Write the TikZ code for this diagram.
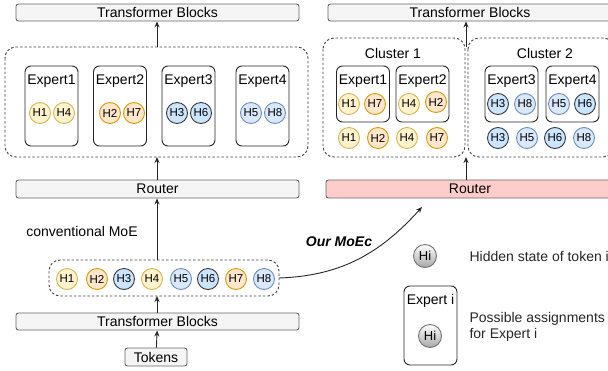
\documentclass[tikz,border=0pt]{standalone}
\usepackage{fontspec}
\setmainfont{Liberation Sans}
\usetikzlibrary{arrows.meta}

\definecolor{blkfill}{HTML}{F5F5F5}
\definecolor{blkdraw}{HTML}{666666}
\definecolor{rtfill}{HTML}{FFCCCC}
\definecolor{yfill}{HTML}{FFF2CC}
\definecolor{ydraw}{HTML}{D6B656}
\definecolor{ofill}{HTML}{FFE6CC}
\definecolor{odraw}{HTML}{D79B00}
\definecolor{dbfill}{HTML}{CCE5FF}
\definecolor{dbdraw}{HTML}{36393D}
\definecolor{lbfill}{HTML}{DAE8FC}
\definecolor{lbdraw}{HTML}{6C8EBF}

\tikzset{
  blk/.style={draw=blkdraw, fill=blkfill, rounded corners=2.5, line width=0.9pt, inner sep=0pt},
  grp/.style={draw=black!75, dash pattern=on 2.5pt off 2pt, rounded corners=11, line width=0.9pt},
  expbox/.style={draw=black!85, rounded corners=6, line width=0.9pt},
  hs/.style={circle, minimum size=21, inner sep=0pt, line width=0.9pt, font=\fontsize{11.5}{12}\selectfont},
  hy/.style={hs, draw=ydraw, fill=yfill},
  ho/.style={hs, draw=odraw, fill=ofill},
  hd/.style={hs, draw=dbdraw, fill=dbfill},
  hl/.style={hs, draw=lbdraw, fill=lbfill},
  hg/.style={hs, minimum size=23, draw=black!55, top color=white, bottom color=black!35, font=\fontsize{13}{14}\selectfont},
  arr/.style={-{Stealth[length=6pt,width=5pt]}, line width=0.9pt, black!85},
}

\begin{document}
\begin{tikzpicture}[x=1pt, y=-1pt, font=\fontsize{14}{16}\selectfont]

\useasboundingbox (0,0) rectangle (608,370);

\begin{scope}

\def\lexp{80}
\def\rexp{56}
\def\expw{53}

% conventional MoE (left)
\node [blk, minimum width=283, minimum height=17] (tbl) at (157.5,12.5) {Transformer Blocks};
\draw [grp] (5,47) rectangle (308,157);
\coordinate (gl) at (157,47);
\coordinate (glb) at (157,157);

\foreach \n/\x in {1/51.5, 2/120, 3/188.5, 4/262.5} {
  \node [expbox, minimum width=\expw, minimum height=\lexp] (le\n) at (\x,106) {};
  \node (lel\n) at (\x,81) {Expert\n};
}
\node [hy] (lh1) at (40,113) {H1};
\node [hy] (lh4) at (64,113) {H4};
\node [ho] (lh2) at (110,113) {H2};
\node [ho] (lh7) at (134,113) {H7};
\node [hd] (lh3) at (177,113) {H3};
\node [hd] (lh6) at (201,113) {H6};
\node [hl] (lh5) at (251,113) {H5};
\node [hl] (lh8) at (275,113) {H8};

\node [blk, minimum width=283, minimum height=18] (rtl) at (157.5,189) {Router};
\node (conv) at (82,231) {conventional MoE};

\draw [grp] (49,260) rectangle (279,296);
\coordinate (tkt) at (157,260);
\coordinate (tkb) at (157,296);
\coordinate (tkr) at (279,278);
\foreach \i/\x/\c in {1/67/hy, 2/97/ho, 3/124/hd, 4/152/hy, 5/181/hl, 6/208/hd, 7/236/ho, 8/264/hl}
  \node [\c] (t\i) at (\x,279) {H\i};

\node [blk, minimum width=283, minimum height=17] (tbb) at (157.5,321.5) {Transformer Blocks};
\node [blk, minimum width=62, minimum height=18] (tok) at (156,357) {Tokens};

\draw [arr] (tok) -- (tbb);
\draw [arr] (tbb.north -| tkb) -- (tkb);
\draw [arr] (tkt) -- (rtl.south -| tkt);
\draw [arr] (rtl.north -| glb) -- (glb);
\draw [arr] (gl) -- (tbl.south -| gl);

% MoEc (right)
\node [blk, minimum width=284, minimum height=17] (tbr) at (470,12.5) {Transformer Blocks};
\draw [grp] (323,38) rectangle (465,157);
\draw [grp] (468,38) rectangle (614,157);
\node (c1) at (393,53) {Cluster 1};
\node (c2) at (545,53) {Cluster 2};
\coordinate (gr) at (466,47);
\coordinate (grb) at (466,157);

\foreach \n/\x in {1/363, 2/422.5, 3/511.5, 4/572.5} {
  \node [expbox, minimum width=\expw, minimum height=\rexp] (re\n) at (\x,94) {};
  \node (rel\n) at (\x,81) {Expert\n};
}
\node [hy] (rh1) at (349,104) {H1};
\node [ho] (rh7) at (375,104) {H7};
\node [hy] (rh4) at (409,104) {H4};
\node [ho] (rh2) at (436,102) {H2};
\node [hd] (rh3) at (498,104) {H3};
\node [hl] (rh8) at (525,104) {H8};
\node [hl] (rh5) at (559,104) {H5};
\node [hd] (rh6) at (585,104) {H6};

\foreach \i/\x/\c in {1/349/hy, 2/378/ho, 4/407/hy, 7/437/ho, 3/498/hd, 5/527/hl, 6/555/hd, 8/584/hl}
  \node [\c] (b\i) at (\x,138) {H\i};

\node [blk, fill=rtfill, minimum width=288, minimum height=18] (rtr) at (470,189) {Router};

\draw [arr] (rtr.north -| grb) -- (grb);
\draw [arr] (gr) -- (tbr.south -| gr);

\coordinate (cv) at (422,207);
\draw [arr] (tkr) to [out=2, in=228] (cv);
\node [font=\fontsize{14}{16}\selectfont\bfseries\itshape] (moec) at (339,242) {Our MoEc};

% legend
\node [hg] (lg1) at (425,256) {Hi};
\node [anchor=west, text=black!85] (lgt1) at (466,256) {Hidden state of token i};
\node [expbox, minimum width=53, minimum height=79] (lgb) at (430.5,325.5) {};
\node (lgbl) at (430.5,301) {Expert i};
\node [hg] (lg2) at (430,336) {Hi};
\node [anchor=west, text=black!85, align=left] (lgt2) at (466,327) {Possible assignments\\for Expert i};

\end{scope}

\end{tikzpicture}
\end{document}
